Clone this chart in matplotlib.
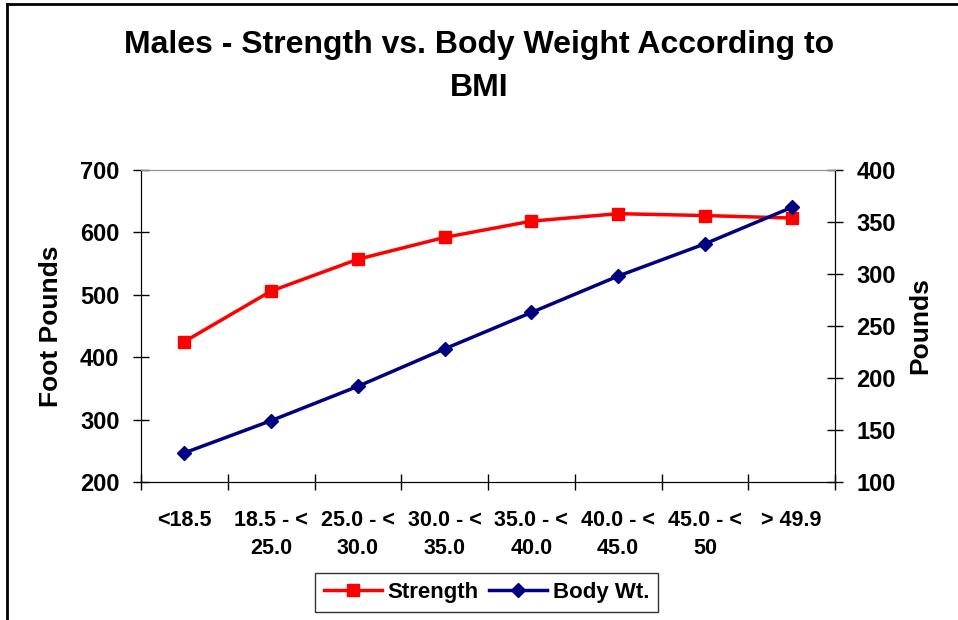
import matplotlib
matplotlib.use('Agg')
import matplotlib.pyplot as plt
from matplotlib.lines import Line2D

plt.rcParams['font.family'] = ['Liberation Sans', 'DejaVu Sans']
plt.rcParams['font.weight'] = 'bold'

# datos
categorias = ['<18.5', '18.5 - <\n25.0', '25.0 - <\n30.0', '30.0 - <\n35.0',
              '35.0 - <\n40.0', '40.0 - <\n45.0', '45.0 - <\n50', '> 49.9']
strength = [425, 506, 557, 592, 618, 630, 627, 623]
body_wt = [128, 159, 192, 228, 263, 298, 329, 364]

fig = plt.figure(figsize=(9.58, 6.2), dpi=100)
ax = fig.add_axes([141/958, 1-482/620, (835-141)/958, (482-170)/620])
ax2 = ax.twinx()

x = list(range(len(categorias)))
ax.plot(x, strength, color='#FF0000', lw=2.5, marker='s', ms=8,
        label='Strength', zorder=3)
ax2.plot(x, body_wt, color='#000080', lw=2.5, marker='D', ms=7.5,
         label='Body Wt.', zorder=3)

ax.set_xlim(-0.5, 7.5)
ax.set_ylim(200, 700)
ax.set_yticks(range(200, 701, 100))
ax2.set_ylim(100, 400)
ax2.set_yticks(range(100, 401, 50))

# ticks mayores en los limites de categoria, etiquetas en las menores
ax.set_xticks([i + 0.5 for i in range(-1, 8)])
ax.set_xticklabels([])
ax.set_xticks(x, minor=True)
ax.set_xticklabels(categorias, minor=True, fontsize=15.5, fontweight='bold',
                   linespacing=1.45, va='top')
ax.tick_params(axis='x', which='major', direction='inout', length=11, width=1)
ax.tick_params(axis='x', which='minor', length=0, pad=20)

ax.tick_params(axis='y', direction='inout', length=11, width=1,
               labelsize=17, pad=10)
ax2.tick_params(axis='y', direction='inout', length=11, width=1,
                labelsize=17, pad=10)
for lab in ax.get_yticklabels() + ax2.get_yticklabels():
    lab.set_fontweight('bold')

for a in (ax, ax2):
    a.spines['top'].set_color('#909090')
    a.spines['left'].set_color('black')
    a.spines['right'].set_color('black')
    a.spines['bottom'].set_color('black')

ax.set_ylabel('Foot Pounds', fontsize=19, fontweight='bold')
ax.yaxis.set_label_coords(-0.112, 0.5)
ax2.set_ylabel('Pounds', fontsize=19, fontweight='bold')
ax2.yaxis.set_label_coords(1.106, 0.5)

fig.text(0.5, 1-45/620, 'Males - Strength vs. Body Weight According to',
         ha='center', va='center', fontsize=23, fontweight='bold')
fig.text(0.5, 1-88/620, 'BMI', ha='center', va='center',
         fontsize=23, fontweight='bold')

h1, l1 = ax.get_legend_handles_labels()
h2, l2 = ax2.get_legend_handles_labels()
leg = fig.legend(h1 + h2, l1 + l2, loc='center', ncol=2,
                 bbox_to_anchor=(486.5/958, 1-592.5/620),
                 prop={'size': 16, 'weight': 'bold'}, fancybox=False,
                 frameon=True, edgecolor='black', handlelength=2.6,
                 columnspacing=0.5, handletextpad=0.25, borderpad=0.4,
                 borderaxespad=0)
leg.get_frame().set_linewidth(1)

# borde del area del grafico
fig.add_artist(Line2D([7/958, 7/958], [0, 1-4/620], color='black', lw=2,
                      transform=fig.transFigure))
fig.add_artist(Line2D([7/958, 1], [1-4/620, 1-4/620], color='black', lw=2,
                      transform=fig.transFigure))

fig.savefig('out.png', dpi=100)
